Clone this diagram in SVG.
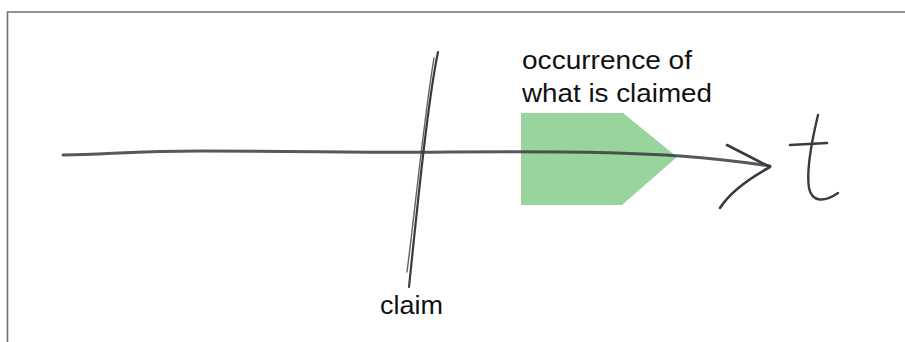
<svg xmlns="http://www.w3.org/2000/svg" width="905" height="342" viewBox="0 0 905 342">
<style>
.ink{fill:none;stroke:#3b3a40;stroke-linecap:round;stroke-linejoin:round}
.lbl{font-family:"Liberation Sans",Arial,sans-serif;font-size:26px;fill:#111}
</style>
<rect width="905" height="342" fill="#fff"/>
<path d="M7.5 342 V12 H905" fill="none" stroke="#707070" stroke-width="1.6"/>
<g id="occurrence">
<polygon points="521,113 623,113 677,157 622,205 521,205" fill="#98d49b"/>
<text class="lbl" x="522" y="69" textLength="170" lengthAdjust="spacingAndGlyphs">occurrence of</text>
<text class="lbl" x="522" y="102" textLength="190" lengthAdjust="spacingAndGlyphs">what is claimed</text>
</g>
<g id="connectors">
<path class="ink" d="M63 155 C110 154 140 151 200 151 C300 151 380 153 450 152 C560 151 640 153 680 156 C720 159 750 163 770 166" stroke-width="3" opacity="0.85"/>
<path class="ink" d="M727 145 L770 167 C750 178 730 192 720 208" stroke-width="2.6"/>
<path class="ink" d="M438 52 C428 100 418 200 409 287" stroke-width="2.2"/>
<path class="ink" d="M434 58 C425 110 415 210 407 272" stroke-width="1.4" opacity="0.8"/>
</g>
<g id="t-label">
<path class="ink" d="M818 115 C812 140 806 170 809 188 C812 203 825 202 838 193" stroke-width="2.4"/>
<path class="ink" d="M790 145 L827 143" stroke-width="2.6"/>
</g>
<g id="claim">
<text class="lbl" x="380" y="314" textLength="63" lengthAdjust="spacingAndGlyphs">claim</text>
</g>
</svg>
